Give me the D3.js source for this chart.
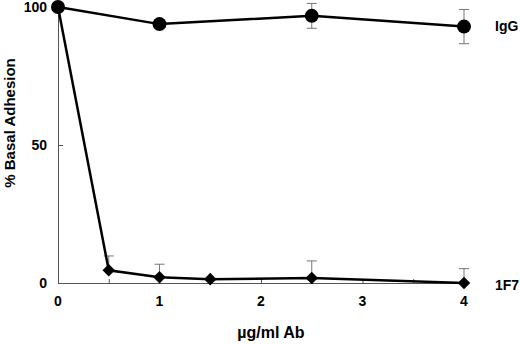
<!DOCTYPE html>
<html>
<head>
<meta charset="utf-8">
<script src="https://d3js.org/d3.v7.min.js"></script>
<style>
body { margin: 0; padding: 0; background: white; }
text { font-family: Arial, "Liberation Sans", sans-serif; font-weight: bold; }
</style>
</head>
<body>
<svg width="520" height="344"></svg>
<script>
// data
var iggDose = [0, 1, 2.5, 4];
var iggValue = [100, 93.8, 96.8, 92.9];
var iggErr = [0, 0, 4.5, 6.2];

var f7Dose = [0, 0.5, 1, 1.5, 2.5, 4];
var f7Value = [100, 4.6, 2.1, 1.4, 1.8, 0];
var f7Err = [0, 5.2, 4.7, 0, 6.2, 5.2];

var xTicks = [0, 1, 2, 3, 4];
var xMinor = [0, 0.5, 1, 1.5, 2, 2.5, 3, 3.5, 4];
var yTicks = [0, 50, 100];

var svg = d3.select("svg");

var x = d3.scaleLinear().domain([0, 4]).range([58, 464]);
var y = d3.scaleLinear().domain([0, 100]).range([283, 7]);

var igg = iggDose.map(function(d, i) { return {x: d, y: iggValue[i], e: iggErr[i]}; });
var f7 = f7Dose.map(function(d, i) { return {x: d, y: f7Value[i], e: f7Err[i]}; });

// axes
var gx = svg.append("g")
  .attr("transform", "translate(0,283)")
  .call(d3.axisBottom(x).tickValues(xMinor).tickSize(-4).tickFormat(""));
gx.select(".domain").attr("stroke", "#555");
gx.selectAll(".tick line").attr("stroke", "#555");

svg.append("g").selectAll("text")
  .data(xTicks).enter().append("text")
  .attr("x", function(d) { return x(d); })
  .attr("y", 306)
  .attr("text-anchor", "middle")
  .attr("font-size", "14px")
  .text(function(d) { return d; });

var gy = svg.append("g")
  .attr("transform", "translate(58,0)")
  .call(d3.axisLeft(y).tickValues(yTicks).tickSize(-5).tickFormat(""));
gy.select(".domain").attr("stroke", "#555");
gy.selectAll(".tick line").attr("stroke", "#555");

svg.append("g").selectAll("text")
  .data(yTicks).enter().append("text")
  .attr("x", 47)
  .attr("y", function(d) { return y(d) + 5; })
  .attr("text-anchor", "end")
  .attr("font-size", "14px")
  .text(function(d) { return d; });

// titles
svg.append("text")
  .attr("x", 271).attr("y", 338)
  .attr("text-anchor", "middle")
  .attr("font-size", "16px")
  .text("\u00b5g/ml Ab");

svg.append("text")
  .attr("transform", "translate(15,123) rotate(-90)")
  .attr("text-anchor", "middle")
  .attr("font-size", "15px")
  .text("% Basal Adhesion");

// error bars
function errBars(data, both) {
  var g = svg.append("g").attr("stroke", "#777").attr("stroke-width", 1);
  data.filter(function(d) { return d.e > 0; }).forEach(function(d) {
    var lo = both ? d.y - d.e : d.y;
    g.append("line").attr("x1", x(d.x)).attr("x2", x(d.x))
      .attr("y1", y(lo)).attr("y2", y(d.y + d.e));
    g.append("line").attr("x1", x(d.x) - 5).attr("x2", x(d.x) + 5)
      .attr("y1", y(d.y + d.e)).attr("y2", y(d.y + d.e));
    if (both) {
      g.append("line").attr("x1", x(d.x) - 5).attr("x2", x(d.x) + 5)
        .attr("y1", y(lo)).attr("y2", y(lo));
    }
  });
}
errBars(igg, true);
errBars(f7, false);

var line = d3.line().x(function(d) { return x(d.x); }).y(function(d) { return y(d.y); });

svg.append("path").datum(igg).attr("d", line)
  .attr("fill", "none").attr("stroke", "black").attr("stroke-width", 2.5);
svg.append("path").datum(f7).attr("d", line)
  .attr("fill", "none").attr("stroke", "black").attr("stroke-width", 2.5);

svg.append("g").selectAll("path")
  .data(f7.slice(1)).enter().append("path")
  .attr("d", d3.symbol().type(d3.symbolDiamond2).size(100))
  .attr("transform", function(d) { return "translate(" + x(d.x) + "," + y(d.y) + ")"; })
  .attr("fill", "black");

svg.append("g").selectAll("circle")
  .data(igg).enter().append("circle")
  .attr("cx", function(d) { return x(d.x); })
  .attr("cy", function(d) { return y(d.y); })
  .attr("r", 7)
  .attr("fill", "black");

// series labels
svg.append("text").attr("x", 495).attr("y", 31).attr("font-size", "14px").text("IgG");
svg.append("text").attr("x", 495).attr("y", 290).attr("font-size", "14px").text("1F7");
</script>
</body>
</html>
